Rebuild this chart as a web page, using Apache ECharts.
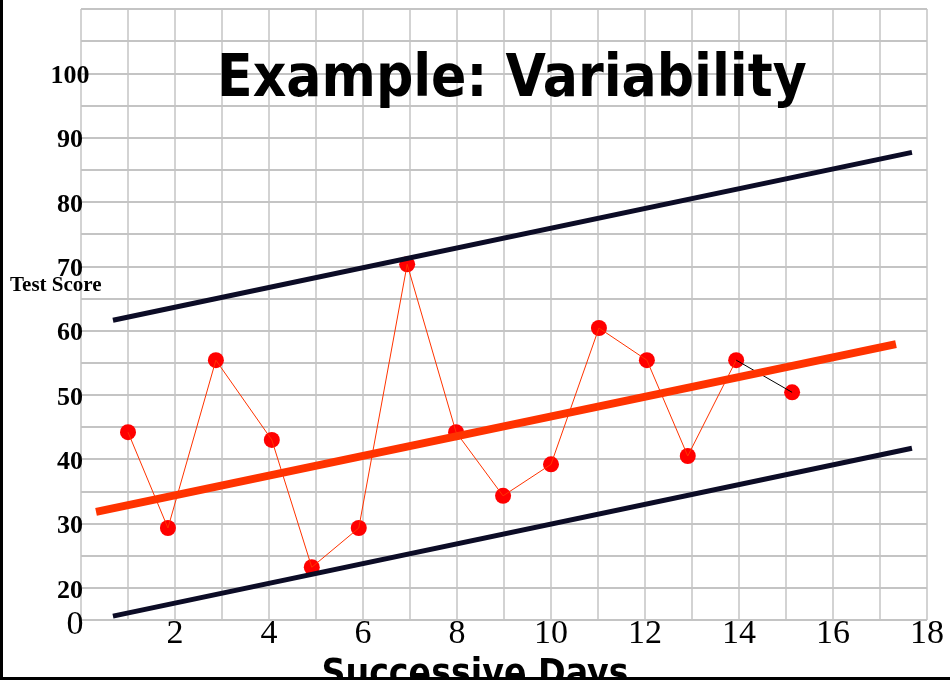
<!DOCTYPE html>
<html>
<head>
<meta charset="utf-8">
<script src="https://cdn.jsdelivr.net/npm/echarts@6/dist/echarts.min.js"></script>
<style>
  html, body { margin: 0; padding: 0; background: #ffffff; }
  #chart { width: 950px; height: 683px; }
</style>
</head>
<body>
<div id="chart"></div>
<script>
// Daily test scores (day position, score)
const days   = [1.0, 1.85, 2.87, 4.06, 4.91, 5.91, 6.94, 7.98, 8.98, 10.0, 11.02, 12.04, 12.91, 13.94, 15.13];
const scores = [44.2, 29.3, 55.4, 43.0, 23.2, 29.3, 70.3, 44.2, 34.3, 39.2, 60.4, 55.4, 40.5, 55.4, 50.4];

// Trend line and the upper / lower limits of variability: [day, score] end points
const trendLine  = [[0.32, 31.8], [17.34, 57.9]];
const upperLimit = [[0.68, 61.6], [17.68, 87.7]];
const lowerLimit = [[0.68, 15.6], [17.68, 41.7]];

// Axis tick labels
const xTickLabels = ['2', '4', '6', '8', '10', '12', '14', '16', '18'];
const yTickLabels = ['20', '30', '40', '50', '60', '70', '80', '90', '100'];
const yBaseValue = 15;     // the bottom line of the broken score axis
const yBaseLabel = '0';

const points = days.map((d, i) => [d, scores[i]]);
const lastIdx = points.length - 1;

const chart = echarts.init(document.getElementById('chart'), null, { renderer: 'canvas' });

const navy = '#0c0c26';
const orange = '#ff3300';

chart.setOption({
  animation: false,
  backgroundColor: '#ffffff',
  title: [
    {
      text: 'Example: Variability',
      left: 212,
      top: 47,
      textStyle: {
        fontFamily: '"DejaVu Sans Condensed", "DejaVu Sans", sans-serif',
        fontWeight: 'bold',
        fontSize: 58,
        color: '#000000'
      }
    },
    {
      text: 'Successive Days',
      left: 'center',
      top: 652,
      textStyle: {
        fontFamily: '"DejaVu Sans Condensed", "DejaVu Sans", sans-serif',
        fontWeight: 'bold',
        fontSize: 37,
        color: '#000000'
      }
    }
  ],
  grid: { left: 81, right: 23, top: 9, bottom: 63, containLabel: false },
  xAxis: {
    type: 'value',
    min: 0,
    max: 18,
    interval: 1,
    axisLine: { show: false },
    axisTick: { show: false },
    axisLabel: {
      margin: -3,
      fontFamily: '"Liberation Serif", "Times New Roman", serif',
      fontSize: 34,
      color: '#000000',
      formatter: v => (xTickLabels.includes(String(v)) ? String(v) : '')
    },
    splitLine: { show: true, lineStyle: { color: '#c4c4c4', width: 1.5 } }
  },
  yAxis: {
    type: 'value',
    min: 15,
    max: 110,
    interval: 5,
    axisLine: { show: false },
    axisTick: { show: false },
    axisLabel: {
      margin: 11,
      align: 'center',
      fontFamily: '"Liberation Serif", "Times New Roman", serif',
      fontWeight: 'bold',
      fontSize: 26,
      color: '#000000',
      padding: [6, 0, 0, 0],
      formatter: v => {
        if (v === yBaseValue) return '{base|' + yBaseLabel + '}';
        return yTickLabels.includes(String(v)) ? String(v) : '';
      },
      rich: {
        base: {
          fontFamily: '"Liberation Serif", "Times New Roman", serif',
          fontWeight: 'normal',
          fontSize: 34,
          color: '#000000',
          padding: [4, 0, 0, 10]
        }
      }
    },
    splitLine: { show: true, lineStyle: { color: '#c4c4c4', width: 2 } }
  },
  series: [
    {
      name: 'Score',
      type: 'scatter',
      data: points,
      symbol: 'circle',
      symbolSize: 16,
      itemStyle: { color: '#ff0000', opacity: 1 },
      z: 2
    },
    {
      name: 'Score path',
      type: 'line',
      data: points.slice(0, lastIdx),
      showSymbol: false,
      lineStyle: { color: orange, width: 1 },
      z: 3
    },
    {
      name: 'Latest change',
      type: 'line',
      data: points.slice(lastIdx - 1),
      showSymbol: false,
      lineStyle: { color: '#000000', width: 1 },
      z: 3
    },
    {
      name: 'Trend',
      type: 'line',
      data: trendLine,
      showSymbol: false,
      lineStyle: { color: orange, width: 8 },
      z: 4
    },
    {
      name: 'Upper limit',
      type: 'line',
      data: upperLimit,
      showSymbol: false,
      lineStyle: { color: navy, width: 5 },
      z: 4
    },
    {
      name: 'Lower limit',
      type: 'line',
      data: lowerLimit,
      showSymbol: false,
      lineStyle: { color: navy, width: 5 },
      z: 4
    }
  ],
  graphic: [
    {
      type: 'text',
      x: 10,
      y: 286,
      z: 50,
      style: {
        text: 'Test Score',
        fontFamily: '"Liberation Serif", "Times New Roman", serif',
        fontWeight: 'bold',
        fontSize: 21,
        fill: '#000000',
        textAlign: 'left',
        textVerticalAlign: 'middle'
      }
    },
    // page frame: left edge and bottom rule
    { type: 'rect', z: 100, shape: { x: 0, y: 0, width: 3, height: 680 }, style: { fill: '#000000' } },
    { type: 'rect', z: 100, shape: { x: 0, y: 680, width: 950, height: 3 }, style: { fill: '#ffffff' } },
    { type: 'rect', z: 100, shape: { x: 0, y: 677, width: 950, height: 3 }, style: { fill: '#000000' } }
  ]
});
</script>
</body>
</html>
